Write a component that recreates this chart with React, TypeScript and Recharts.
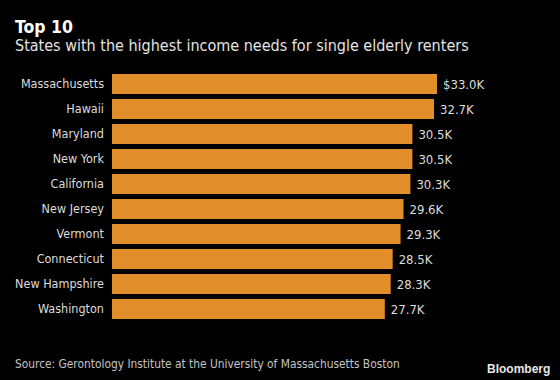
import React from 'react';
import { BarChart, Bar, XAxis, YAxis, LabelList } from 'recharts';

const states = [
  'Massachusetts',
  'Hawaii',
  'Maryland',
  'New York',
  'California',
  'New Jersey',
  'Vermont',
  'Connecticut',
  'New Hampshire',
  'Washington',
];
const incomeNeeds = [33.0, 32.7, 30.5, 30.5, 30.3, 29.6, 29.3, 28.5, 28.3, 27.7];

const FONT = '"DejaVu Sans Condensed", "DejaVu Sans", sans-serif';

const data = states.map((s, i) => ({
  state: s,
  value: incomeNeeds[i],
  label: (i === 0 ? '$' : '') + incomeNeeds[i].toFixed(1) + 'K',
}));

const App: React.FC = () => {
  return (
    <div
      style={{
        position: 'absolute',
        left: 0,
        top: 0,
        width: 560,
        height: 380,
        background: '#000',
        overflow: 'hidden',
      }}
    >
      <div style={{ position: 'absolute', left: 0, top: 0 }}>
        <BarChart
          width={560}
          height={380}
          data={data}
          layout="vertical"
          barCategoryGap="10%"
          margin={{ top: 71.5, right: 123, bottom: 58.5, left: 0 }}
        >
          <XAxis type="number" domain={[0, 33]} hide />
          <YAxis
            type="category"
            dataKey="state"
            width={112}
            axisLine={false}
            tickLine={false}
            interval={0}
            tick={{ fill: '#dcdcdc', fontSize: 12.5, fontFamily: FONT }}
          />
          <Bar dataKey="value" fill="#E18E2B" isAnimationActive={false}>
            <LabelList
              dataKey="label"
              position="right"
              offset={6}
              fill="#dcdcdc"
              fontSize={13}
              fontFamily={FONT}
            />
          </Bar>
        </BarChart>
      </div>

      {/* header + footer text, placed by baseline */}
      <svg width={560} height={380} style={{ position: 'absolute', left: 0, top: 0 }}>
        <text x={15} y={33.3} fill="#fff" fontSize={17.5} fontWeight="bold" fontFamily={FONT}>
          Top 10
        </text>
        <text x={15} y={50.5} fill="#e4e4e4" fontSize={16} fontFamily={FONT}>
          States with the highest income needs for single elderly renters
        </text>
        <text x={15} y={368.3} fill="#c4c4c4" fontSize={11.85} fontFamily={FONT}>
          Source: Gerontology Institute at the University of Massachusetts Boston
        </text>
        <text
          x={487}
          y={373}
          fill="#e6e6e6"
          fontSize={12}
          fontWeight="bold"
          fontFamily='"Liberation Sans", Arial, sans-serif'
        >
          Bloomberg
        </text>
      </svg>
    </div>
  );
};

export default App;
